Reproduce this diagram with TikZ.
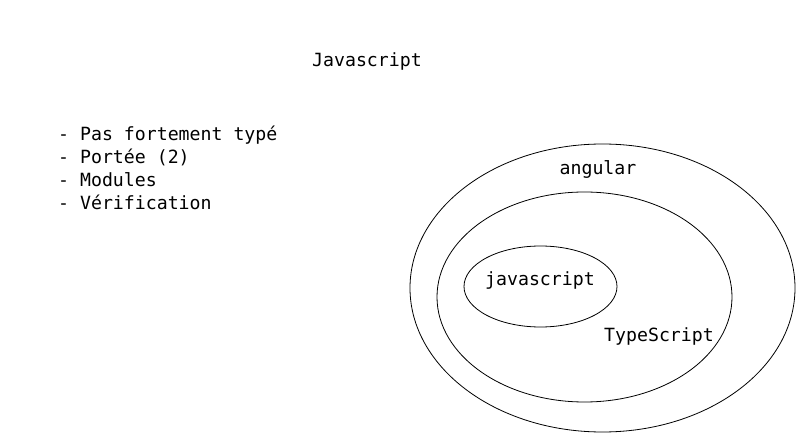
\documentclass[tikz,border=0pt]{standalone}
\usepackage{fontspec}
\setmonofont{DejaVu Sans Mono}
\usetikzlibrary{shapes.geometric}
\begin{document}
\begin{tikzpicture}[x=1pt,y=-1pt,
  lbl/.style={font=\ttfamily\fontsize{18.2}{23}\selectfont, inner sep=0pt, anchor=base},
  item/.style={font=\ttfamily\fontsize{18.2}{23}\selectfont, inner sep=0pt, anchor=base west},
  ring/.style={draw=black, line width=0.8pt, ellipse, inner sep=0pt}]
\fill[white] (0,0) rectangle (804,438);
\useasboundingbox (0,0) rectangle (804,438);
\node[ring, minimum width=385pt, minimum height=288pt] (outer) at (602.5,288) {};
\node[ring, minimum width=295pt, minimum height=210pt] (middle) at (584.5,297) {};
\node[ring, minimum width=153pt, minimum height=81pt] (inner) at (540.5,286.5) {};
\node[lbl] (title) at (367,67) {Javascript};
\node[lbl] (ang) at (598,174.5) {angular};
\node[lbl] (js) at (540,285.5) {javascript};
\node[lbl] (ts) at (659,341.5) {TypeScript};
\node[item] (l1) at (58,141) {- Pas fortement typé};
\node[item] (l2) at (58,164) {- Portée (2)};
\node[item] (l3) at (58,187) {- Modules};
\node[item] (l4) at (58,210) {- Vérification};
\end{tikzpicture}
\end{document}
